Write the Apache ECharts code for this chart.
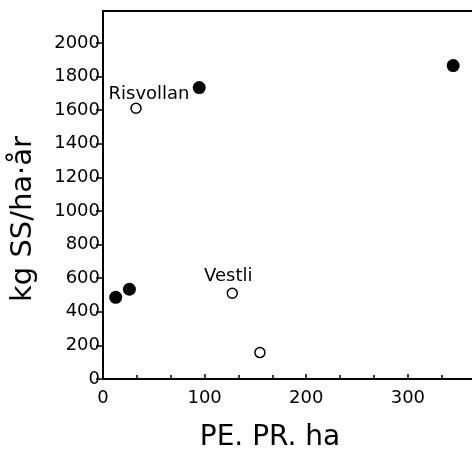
<!DOCTYPE html>
<html>
<head>
<meta charset="utf-8">
<script src="https://cdn.jsdelivr.net/npm/echarts@6/dist/echarts.min.js"></script>
<style>
  html, body { margin: 0; padding: 0; background: #fff; }
  #chart { width: 472px; height: 455px; }
</style>
</head>
<body>
<div id="chart"></div>
<script>
// filled circles
const filledX = [12.5, 26, 94.7, 344.6]
const filledY = [486, 534, 1734, 1865]
// open circles, two of them named
const openX = [32.5, 127.2, 154.4]
const openY = [1611, 510, 157]
const openNames = ['Risvollan', 'Vestli', '']

const yTicks = [0, 200, 400, 600, 800, 1000, 1200, 1400, 1600, 1800, 2000]

const xTitle = 'PE. PR. ha'
const yTitle = 'kg SS/ha·år'

const font = 'DejaVu Sans'

const c = echarts.init(document.getElementById('chart'))

const labelOffsets = {Risvollan: [13, -14], Vestli: [-4, -17]}

c.setOption({
  animation: false,
  backgroundColor: '#fff',
  grid: {
    left: 103, top: 11, width: 376, height: 368,
    outerBoundsMode: 'none', containLabel: false,
    show: true, borderColor: '#000', borderWidth: 2
  },
  xAxis: {
    type: 'value', min: 0, max: 370, interval: 100,
    axisLine: {lineStyle: {color: '#000', width: 2}},
    axisTick: {inside: true, length: 5, lineStyle: {color: '#000', width: 1.5}},
    minorTick: {show: true, splitNumber: 3, length: 4, lineStyle: {color: '#000', width: 1.5}},
    splitLine: {show: false},
    axisLabel: {
      color: '#000', fontFamily: font, fontSize: 18, margin: 10,
      formatter: v => (v % 100 === 0 ? String(v) : '')
    }
  },
  yAxis: {
    type: 'value', min: 0, max: 2190, interval: 200,
    axisLine: {lineStyle: {color: '#000', width: 2}},
    axisTick: {length: 7, customValues: yTicks, lineStyle: {color: '#000', width: 1.5}},
    splitLine: {show: false},
    axisLabel: {
      color: '#000', fontFamily: font, fontSize: 18, margin: 3,
      customValues: yTicks,
      formatter: v => String(v)
    }
  },
  graphic: [
    {
      type: 'text', x: 270, y: 438,
      style: {text: xTitle, font: '28px "DejaVu Sans"', fill: '#000', align: 'center', verticalAlign: 'middle'}
    },
    {
      type: 'text', x: 23, y: 219, rotation: Math.PI / 2,
      style: {text: yTitle, font: '29px "DejaVu Sans"', fill: '#000', align: 'center', verticalAlign: 'middle'}
    }
  ],
  series: [
    {
      type: 'scatter',
      symbol: 'circle', symbolSize: 13,
      itemStyle: {color: '#000', opacity: 1},
      data: filledX.map((x, i) => [x, filledY[i]])
    },
    {
      type: 'scatter',
      symbol: 'circle', symbolSize: 10,
      itemStyle: {color: '#fff', borderColor: '#000', borderWidth: 1.5, opacity: 1},
      data: openX.map((x, i) => ({
        value: [x, openY[i]],
        name: openNames[i],
        label: {
          show: openNames[i] !== '',
          position: 'inside',
          offset: labelOffsets[openNames[i]] || [0, 0],
          formatter: '{b}',
          color: '#000', opacity: 1, fontFamily: font, fontSize: 18
        }
      }))
    }
  ]
})
</script>
</body>
</html>
